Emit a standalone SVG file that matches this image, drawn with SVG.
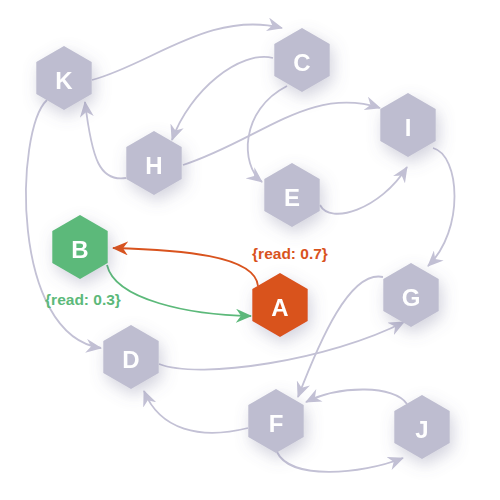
<svg xmlns="http://www.w3.org/2000/svg" width="500" height="500" viewBox="0 0 500 500">
<defs>
<style>
.e{fill:none;stroke:#c3c1d5;stroke-width:1.8}
.eo{fill:none;stroke:#d9531e;stroke-width:1.8}
.eg{fill:none;stroke:#5cb97a;stroke-width:1.8}
.n{fill:#bebdd0}
.lbl{font-family:"Liberation Sans",Arial,sans-serif;font-weight:bold;font-size:24px;fill:#fff;text-anchor:middle}
.el{font-family:"Liberation Sans",Arial,sans-serif;font-weight:bold;font-size:15.5px;text-anchor:middle}
</style>
<filter id="sh" x="-70%" y="-70%" width="240%" height="240%">
<feDropShadow dx="3" dy="6" stdDeviation="8" flood-color="#6a6890" flood-opacity="0.3"/>
</filter>
<polygon id="hex" points="0,-32 27.7,-16 27.7,16 0,32 -27.7,16 -27.7,-16" stroke-linejoin="round"/>
<marker id="ag" viewBox="0 0 16 14" refX="15" refY="7" markerWidth="16" markerHeight="14" markerUnits="userSpaceOnUse" orient="auto"><path d="M0,0 L16,7 L0,14 L5,7 Z" fill="#c3c1d5"/></marker>
<marker id="ao" viewBox="0 0 16 14" refX="15" refY="7" markerWidth="16" markerHeight="14" markerUnits="userSpaceOnUse" orient="auto"><path d="M0,0 L16,7 L0,14 L5,7 Z" fill="#d9531e"/></marker>
<marker id="agr" viewBox="0 0 16 14" refX="15" refY="7" markerWidth="16" markerHeight="14" markerUnits="userSpaceOnUse" orient="auto"><path d="M0,0 L16,7 L0,14 L5,7 Z" fill="#5cb97a"/></marker>
</defs>
<g id="connectors">
<path class="e" marker-end="url(#ag)" d="M92,80 C150,65 210,10 282,28"/>
<path class="e" marker-end="url(#ag)" d="M273,58 C240,50 190,90 172,140"/>
<path class="e" marker-end="url(#ag)" d="M126,178 C100,182 92,160 85,102"/>
<path class="e" marker-end="url(#ag)" d="M183,165 C260,140 310,85 380,108"/>
<path class="e" marker-end="url(#ag)" d="M287,86 C240,110 240,165 262,182"/>
<path class="e" marker-end="url(#ag)" d="M320,205 C330,225 380,210 407,167"/>
<path class="e" marker-end="url(#ag)" d="M433,148 C460,155 465,230 428,266"/>
<path class="e" marker-end="url(#ag)" d="M47,100 C15,130 10,335 101,348"/>
<path class="e" marker-end="url(#ag)" d="M159,364 C200,380 330,360 404,322"/>
<path class="e" marker-end="url(#ag)" d="M383,277 C350,270 320,340 298,397"/>
<path class="e" marker-end="url(#ag)" d="M407,404 C395,385 340,385 306,402"/>
<path class="e" marker-end="url(#ag)" d="M248,428 C200,440 160,430 144,391"/>
<path class="e" marker-end="url(#ag)" d="M277,452 C290,480 360,475 403,458"/>
<path class="eo" marker-end="url(#ao)" d="M258,286 C255,255 180,250 113,248"/>
<path class="eg" marker-end="url(#agr)" d="M107,265 C115,300 190,315 251,316"/>
<text class="el" x="290" y="259" fill="#d9531e">{read: 0.7}</text>
<text class="el" x="83" y="305" fill="#5cb97a">{read: 0.3}</text>
</g>
<g id="K" filter="url(#sh)"><use href="#hex" class="n" x="64" y="78"/><text class="lbl" x="64" y="89">K</text></g>
<g id="C" filter="url(#sh)"><use href="#hex" class="n" x="302" y="60"/><text class="lbl" x="302" y="71">C</text></g>
<g id="H" filter="url(#sh)"><use href="#hex" class="n" x="154" y="163"/><text class="lbl" x="154" y="174">H</text></g>
<g id="I" filter="url(#sh)"><use href="#hex" class="n" x="408" y="125"/><text class="lbl" x="408" y="136">I</text></g>
<g id="E" filter="url(#sh)"><use href="#hex" class="n" x="292" y="195"/><text class="lbl" x="292" y="206">E</text></g>
<g id="B" filter="url(#sh)"><use href="#hex" fill="#5cb97a" x="80" y="247"/><text class="lbl" x="80" y="258">B</text></g>
<g id="A" filter="url(#sh)"><use href="#hex" fill="#d9531e" x="280" y="305"/><text class="lbl" x="280" y="316">A</text></g>
<g id="G" filter="url(#sh)"><use href="#hex" class="n" x="411" y="295"/><text class="lbl" x="411" y="306">G</text></g>
<g id="D" filter="url(#sh)"><use href="#hex" class="n" x="131" y="357"/><text class="lbl" x="131" y="368">D</text></g>
<g id="F" filter="url(#sh)"><use href="#hex" class="n" x="276" y="421"/><text class="lbl" x="276" y="432">F</text></g>
<g id="J" filter="url(#sh)"><use href="#hex" class="n" x="422" y="427"/><text class="lbl" x="422" y="438">J</text></g>
</svg>
